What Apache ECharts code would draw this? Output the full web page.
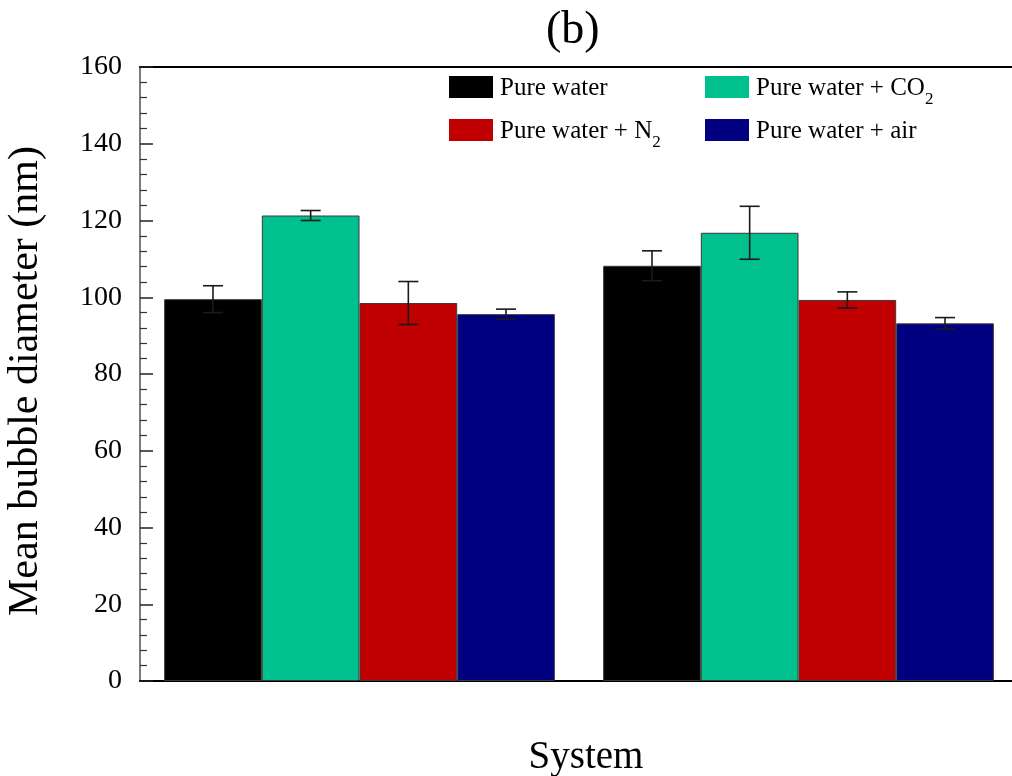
<!DOCTYPE html>
<html>
<head>
<meta charset="utf-8">
<script src="https://cdn.jsdelivr.net/npm/echarts@6/dist/echarts.min.js"></script>
<style>
  html, body { margin: 0; padding: 0; background: #fff; }
  #chart { width: 1012px; height: 776px; }
</style>
</head>
<body>
<div id="chart"></div>
<script>
// Two systems, four gas conditions each
const categories = ['System 1', 'System 2'];
const seriesNames = ['Pure water', 'Pure water + CO2', 'Pure water + N2', 'Pure water + air'];
const colors = ['#000000', '#00C08D', '#C00000', '#000080'];

// Mean bubble diameter (nm) and symmetric error (nm)
const pureWater = [99.5, 108.2];
const pureWaterErr = [3.5, 3.9];
const co2 = [121.3, 116.8];
const co2Err = [1.3, 6.9];
const n2 = [98.5, 99.3];
const n2Err = [5.6, 2.1];
const air = [95.6, 93.2];
const airErr = [1.3, 1.5];

const yTicks = { min: 0, max: 160, interval: 20 };

const values = [pureWater, co2, n2, air];
const errors = [pureWaterErr, co2Err, n2Err, airErr];

const FONT = "'Liberation Serif', 'Times New Roman', serif";
const CAT_GAP = 0.11;

const chart = echarts.init(document.getElementById('chart'), null, { renderer: 'canvas' });

// Trailing digit of a gas formula is drawn as a subscript;
// every label gets the same two-token layout so all rows share one height
function legendLabel(name) {
  const m = name.match(/^(.*?)(\d)$/);
  if (m) return '{a|' + m[1] + '}{sub|' + m[2] + '}';
  return '{a|' + name + '}{sub| }';
}

const richStyle = {
  a: { fontFamily: FONT, fontSize: 25, color: '#000', lineHeight: 36, verticalAlign: 'top' },
  sub: { fontFamily: FONT, fontSize: 17, color: '#000', lineHeight: 16, verticalAlign: 'top', padding: [15, 0, 0, 0] }
};

const barSeries = seriesNames.map((name, i) => ({
  name: name,
  type: 'bar',
  data: values[i],
  barGap: '0%',
  barCategoryGap: (CAT_GAP * 100) + '%',
  itemStyle: { color: colors[i], borderColor: '#3a3a3a', borderWidth: 1 },
  z: 2
}));

const errorSeries = seriesNames.map((name, i) => ({
  type: 'custom',
  name: name + ' error',
  data: values[i].map((v, k) => [k, v - errors[i][k], v + errors[i][k]]),
  z: 5,
  silent: true,
  renderItem: function (params, api) {
    const cat = api.value(0);
    const lo = api.coord([cat, api.value(1)]);
    const hi = api.coord([cat, api.value(2)]);
    const catW = api.size([1, 0])[0];
    const bw = catW * (1 - CAT_GAP) / seriesNames.length;
    const x = lo[0] + (i - (seriesNames.length - 1) / 2) * bw;
    const cap = 10;
    const style = { stroke: '#1a1a1a', lineWidth: 1.6, fill: null };
    return {
      type: 'group',
      children: [
        { type: 'line', shape: { x1: x, y1: lo[1], x2: x, y2: hi[1] }, style: style },
        { type: 'line', shape: { x1: x - cap, y1: hi[1], x2: x + cap, y2: hi[1] }, style: style },
        { type: 'line', shape: { x1: x - cap, y1: lo[1], x2: x + cap, y2: lo[1] }, style: style }
      ]
    };
  }
}));

const legendCommon = {
  orient: 'vertical',
  top: 71,
  itemWidth: 44,
  itemHeight: 22,
  itemGap: 11,
  icon: 'rect',
  itemStyle: { borderWidth: 0 },
  formatter: legendLabel,
  textStyle: { rich: richStyle, padding: [14, 0, 0, 2] }
};

const option = {
  backgroundColor: '#ffffff',
  animation: false,
  title: {
    text: '(b)',
    left: 541,
    top: 3,
    textStyle: { fontFamily: FONT, fontSize: 46, fontWeight: 'normal', color: '#000' }
  },
  legend: [
    Object.assign({ data: [seriesNames[0], seriesNames[2]], left: 444 }, legendCommon),
    Object.assign({ data: [seriesNames[1], seriesNames[3]], left: 700 }, legendCommon)
  ],
  grid: { left: 140, right: -6, top: 67, bottom: 95, containLabel: false, outerBoundsMode: 'none' },
  xAxis: [
    {
      type: 'category',
      data: categories,
      position: 'bottom',
      axisLine: { lineStyle: { color: '#000', width: 2 } },
      axisTick: { show: false },
      axisLabel: { show: false },
      name: 'System',
      nameLocation: 'middle',
      nameGap: 57,
      nameTextStyle: { fontFamily: FONT, fontSize: 39, color: '#000', padding: [0, 0, 0, 14] }
    },
    {
      type: 'category',
      data: categories,
      position: 'top',
      axisLine: { lineStyle: { color: '#000', width: 2 } },
      axisTick: { show: false },
      axisLabel: { show: false }
    }
  ],
  yAxis: {
    type: 'value',
    min: yTicks.min,
    max: yTicks.max,
    interval: yTicks.interval,
    name: 'Mean bubble diameter (nm)',
    nameLocation: 'middle',
    nameGap: 93,
    nameTextStyle: { fontFamily: FONT, fontSize: 42, color: '#000', padding: [0, 14, 0, 0] },
    axisLine: { show: true, lineStyle: { color: '#7a7a7a', width: 2 } },
    axisTick: { show: true, inside: true, length: 13, lineStyle: { color: '#222', width: 1.5 } },
    minorTick: { show: true, splitNumber: 5, length: 7, lineStyle: { color: '#333', width: 1.2 } },
    splitLine: { show: false },
    axisLabel: { fontFamily: FONT, fontSize: 28, color: '#000', margin: 18 }
  },
  series: barSeries.concat(errorSeries)
};

chart.setOption(option);
</script>
</body>
</html>
